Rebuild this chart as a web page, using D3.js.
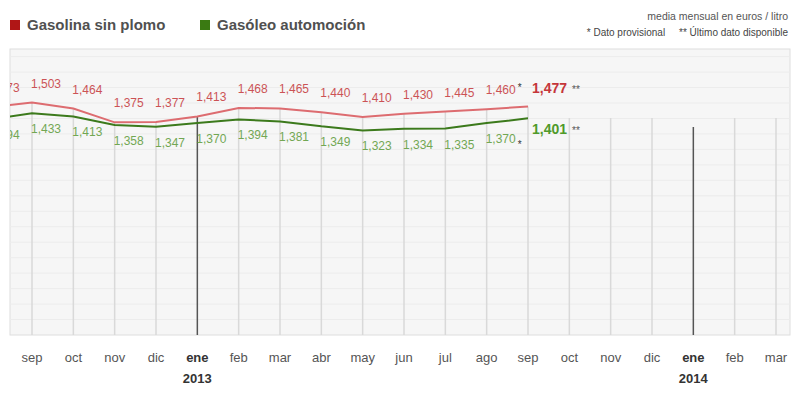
<!DOCTYPE html>
<html>
<head>
<meta charset="utf-8">
<script src="https://cdn.jsdelivr.net/npm/d3@7"></script>
<style>
  body { margin: 0; background: #fff; }
  text { font-family: "Liberation Sans", Arial, sans-serif; }
</style>
</head>
<body>
<svg id="chart" width="800" height="397"></svg>
<script>
// months shown on the axis, sep 2012 .. mar 2014 (index 0 = ago 2012, off the left edge)
const monthLabels = ["ago", "sep", "oct", "nov", "dic", "ene", "feb", "mar", "abr", "may", "jun",
    "jul", "ago", "sep", "oct", "nov", "dic", "ene", "feb", "mar"];
const yearLabels = [{ index: 5, label: "2013" }, { index: 17, label: "2014" }];

// euros / litro, ago 2012 .. sep 2013
const gasolina = [1.473, 1.503, 1.464, 1.375, 1.377, 1.413, 1.468, 1.465, 1.440, 1.410, 1.430, 1.445, 1.460, 1.477];
const gasoleo = [1.394, 1.433, 1.413, 1.358, 1.347, 1.370, 1.394, 1.381, 1.349, 1.323, 1.334, 1.335, 1.370, 1.401];
const provisionalIndex = 12;   // "*"
const lastIndex = 13;          // "**"

const width = 800, height = 397;
const plot = { left: 10, right: 790, top: 49, bottom: 335 };
const red = "#c5363a", redLine = "#dd6c70", green = "#5b9a37", greenLine = "#3c7a1c";

const svg = d3.select("#chart");

const x = d3.scaleLinear()
    .domain([1, 19])
    .range([32, 776]);

const y = d3.scaleLinear()
    .domain([0, 1.5])
    .range([plot.bottom, 103]);

const fmt = v => d3.format(".3f")(v).replace(".", ",");

// header
const legend = svg.append("g");
[["Gasolina sin plomo", "#b01616", 10], ["Gasóleo automoción", "#3a7a12", 200]].forEach(([name, col, lx]) => {
    legend.append("rect").attr("x", lx).attr("y", 20).attr("width", 10).attr("height", 10).attr("fill", col);
    legend.append("text").attr("x", lx + 17).attr("y", 30)
        .attr("font-size", 15).attr("font-weight", "bold").attr("fill", "#505050")
        .text(name);
});
svg.append("text").attr("x", 788).attr("y", 20).attr("text-anchor", "end")
    .attr("font-size", 10.5).attr("fill", "#555").text("media mensual en euros / litro");
svg.append("text").attr("x", 788).attr("y", 36).attr("text-anchor", "end")
    .attr("font-size", 10).attr("fill", "#444")
    .attr("xml:space", "preserve")
    .text("* Dato provisional     ** Último dato disponible");

// plot background
svg.append("rect")
    .attr("x", plot.left).attr("y", plot.top)
    .attr("width", plot.right - plot.left).attr("height", plot.bottom - plot.top)
    .attr("fill", "#f6f6f6").attr("stroke", "#dedede");

svg.append("clipPath").attr("id", "clip")
    .append("rect")
    .attr("x", plot.left).attr("y", plot.top)
    .attr("width", plot.right - plot.left).attr("height", plot.bottom - plot.top);

const g = svg.append("g").attr("clip-path", "url(#clip)");

// faint horizontal grid every 0.1
g.selectAll("line.h")
    .data(d3.range(1, 19).map(i => i / 10))
    .join("line")
    .attr("x1", plot.left).attr("x2", plot.right)
    .attr("y1", d => y(d)).attr("y2", d => y(d))
    .attr("stroke", "#ececec").attr("stroke-width", 1);

// vertical month lines (drop from the gasolina line where there is data)
const months = d3.range(1, monthLabels.length);
g.selectAll("line.v")
    .data(months)
    .join("line")
    .attr("x1", d => x(d)).attr("x2", d => x(d))
    .attr("y1", d => {
        if (d < gasolina.length) return y(gasolina[d]);
        return monthLabels[d] === "ene" ? 127 : 118;
    })
    .attr("y2", plot.bottom)
    .attr("stroke", d => monthLabels[d] === "ene" ? "#555" : "#d9d9d9")
    .attr("stroke-width", d => monthLabels[d] === "ene" ? 1.5 : 1.5);

// lines
const line = d3.line().x((d, i) => x(i)).y(d => y(d));
g.append("path").datum(gasolina).attr("d", line)
    .attr("fill", "none").attr("stroke", redLine).attr("stroke-width", 2);
g.append("path").datum(gasoleo).attr("d", line)
    .attr("fill", "none").attr("stroke", greenLine).attr("stroke-width", 2);

// value labels
const labelIdx = d3.range(0, lastIndex);
g.selectAll("text.r")
    .data(labelIdx)
    .join("text")
    .attr("x", i => x(i) + 14).attr("y", i => y(gasolina[i]) - 15)
    .attr("text-anchor", "middle").attr("font-size", 12).attr("fill", red).attr("opacity", 0.85)
    .text(i => fmt(gasolina[i]));
g.selectAll("text.gr")
    .data(labelIdx)
    .join("text")
    .attr("x", i => x(i) + 14).attr("y", i => y(gasoleo[i]) + 20)
    .attr("text-anchor", "middle").attr("font-size", 12).attr("fill", green).attr("opacity", 0.85)
    .text(i => fmt(gasoleo[i]));

// provisional marks
[[gasolina, -18], [gasoleo, 25]].forEach(([s, dy]) => {
    g.append("text")
        .attr("x", x(provisionalIndex) + 31).attr("y", y(s[provisionalIndex]) + dy)
        .attr("font-size", 10).attr("fill", "#333").text("*");
});

// last value labels
[[gasolina, red, -14], [gasoleo, "#4f9a2a", 16]].forEach(([s, col, dy]) => {
    const t = g.append("text")
        .attr("x", x(lastIndex) + 4).attr("y", y(s[lastIndex]) + dy)
        .attr("font-size", 14).attr("font-weight", "bold").attr("fill", col);
    t.append("tspan").text(fmt(s[lastIndex]));
    t.append("tspan").attr("dx", 5).attr("font-size", 10).attr("fill", "#555").attr("font-weight", "normal").text("**");
});

// x axis labels
svg.selectAll("text.m")
    .data(months)
    .join("text")
    .attr("x", d => x(d)).attr("y", 362)
    .attr("text-anchor", "middle").attr("font-size", 13)
    .attr("font-weight", d => monthLabels[d] === "ene" ? "bold" : "normal")
    .attr("fill", d => monthLabels[d] === "ene" ? "#333" : "#555")
    .text(d => monthLabels[d]);

svg.selectAll("text.yr")
    .data(yearLabels)
    .join("text")
    .attr("x", d => x(d.index)).attr("y", 383)
    .attr("text-anchor", "middle").attr("font-size", 13).attr("font-weight", "bold").attr("fill", "#333")
    .text(d => d.label);
</script>
</body>
</html>
